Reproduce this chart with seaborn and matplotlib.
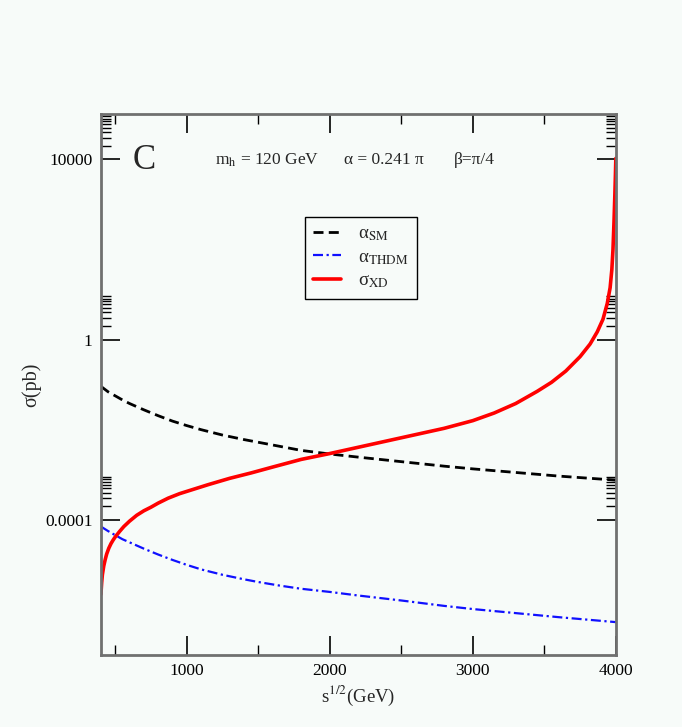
import numpy as np
import pandas as pd
import seaborn as sns
import matplotlib.pyplot as plt
from matplotlib.ticker import FixedLocator, NullFormatter

# sqrt(s) [GeV] and log10(sigma [pb])
s_sm = [400, 450, 500, 550, 600, 700, 800, 900, 1000, 1100, 1250, 1400, 1500, 1650,
        1800, 2000, 2200, 2500, 2800, 3000, 3300, 3600, 4000]
lg_sm = [-1.04, -1.16, -1.25, -1.34, -1.42, -1.56, -1.69, -1.81, -1.91, -2.00, -2.12,
         -2.22, -2.28, -2.37, -2.46, -2.54, -2.61, -2.71, -2.81, -2.87, -2.95, -3.03, -3.12]

s_thdm = [400, 450, 500, 550, 600, 700, 800, 900, 1000, 1100, 1250, 1400, 1500, 1650,
          1800, 2000, 2200, 2500, 2800, 3000, 3300, 3600, 4000]
lg_thdm = [-4.15, -4.25, -4.34, -4.43, -4.50, -4.64, -4.77, -4.89, -5.00, -5.10, -5.22,
           -5.32, -5.38, -5.46, -5.53, -5.60, -5.68, -5.79, -5.91, -5.98, -6.07, -6.16, -6.27]

s_xd = [400, 405, 410, 420, 430, 440, 455, 470, 485, 500, 530, 560, 600, 650, 700, 750,
        800, 870, 950, 1050, 1150, 1300, 1450, 1600, 1800, 2000, 2200, 2400, 2600, 2800,
        3000, 3150, 3300, 3450, 3550, 3650, 3750, 3820, 3870, 3910, 3940, 3960, 3972,
        3980, 3987, 3993, 3997, 4000]
lg_xd = [-5.65, -5.40, -5.22, -5.02, -4.88, -4.76, -4.63, -4.53, -4.45, -4.38, -4.26,
         -4.15, -4.03, -3.90, -3.80, -3.72, -3.63, -3.52, -3.42, -3.32, -3.22, -3.08,
         -2.96, -2.83, -2.66, -2.53, -2.39, -2.25, -2.11, -1.97, -1.80, -1.63, -1.42,
         -1.15, -0.95, -0.70, -0.38, -0.10, 0.17, 0.45, 0.80, 1.15, 1.55, 2.00, 2.60,
         3.20, 3.65, 4.02]

x_ticks = [1000, 2000, 3000, 4000]
x_minor = [500, 1500, 2500, 3500]
y_ticks = [1e-4, 1, 1e4]
y_labels = ["0.0001", "1", "10000"]

sm = pd.DataFrame({"s": s_sm, "sigma": 10.0 ** np.array(lg_sm)})
thdm = pd.DataFrame({"s": s_thdm, "sigma": 10.0 ** np.array(lg_thdm)})
xd = pd.DataFrame({"s": s_xd, "sigma": 10.0 ** np.array(lg_xd)})

sns.set_style("white")
plt.rcParams["font.family"] = ["Liberation Serif", "DejaVu Serif"]
plt.rcParams["mathtext.fontset"] = "stix"

bg = "#f7fbf9"
fig = plt.figure(figsize=(6.82, 7.27), dpi=100, facecolor=bg)
ax = fig.add_axes([0.148, 0.099, 0.755, 0.744], facecolor=bg)

sns.lineplot(data=sm, x="s", y="sigma", ax=ax, color="black", lw=2.0,
             label=r"α$_{\rm SM}$")
ax.lines[-1].set_dashes([3.6, 1.9])
sns.lineplot(data=thdm, x="s", y="sigma", ax=ax, color="#1010ff", lw=1.6,
             label=r"α$_{\rm THDM}$")
ax.lines[-1].set_dashes([4.5, 1.6, 1.0, 1.6])
sns.lineplot(data=xd, x="s", y="sigma", ax=ax, color="#ff0000", lw=2.6,
             label=r"σ$_{\rm XD}$")

ax.set_yscale("log")
ax.set_xlim(400, 4000)
ax.set_ylim(1e-7, 1e5)

ax.xaxis.set_major_locator(FixedLocator(x_ticks))
ax.xaxis.set_minor_locator(FixedLocator(x_minor))
ax.yaxis.set_major_locator(FixedLocator(y_ticks))
ax.set_yticklabels(y_labels)
y_minor = [k * 10.0 ** n for n in (-4, 0, 4) for k in range(2, 10)]
ax.yaxis.set_minor_locator(FixedLocator(y_minor))
ax.yaxis.set_minor_formatter(NullFormatter())

ax.tick_params(which="both", direction="in", top=True, right=True, left=True,
               bottom=True, labelsize=12.5, color="black", labelcolor="black", pad=6)
ax.tick_params(which="major", length=14, width=1.2)
ax.tick_params(which="minor", length=7, width=1.0)

for sp in ax.spines.values():
    sp.set_color("#707070")
    sp.set_linewidth(2)

ax.set_xlabel(r"s$^{1/2}$(GeV)", fontsize=13.5, labelpad=3)
ax.set_ylabel("σ(pb)", fontsize=14.5, labelpad=3)

ax.text(0.062, 0.915, "C", transform=ax.transAxes, fontsize=25, va="center")
ax.text(0.221, 0.915, r"m$_{\rm h}$ = 120 GeV", transform=ax.transAxes,
        fontsize=12.5, va="center")
ax.text(0.472, 0.915, "α = 0.241 π", transform=ax.transAxes, fontsize=12.5, va="center")
ax.text(0.685, 0.915, "β=π/4", transform=ax.transAxes, fontsize=12.5, va="center")

leg = ax.legend(loc="upper left", bbox_to_anchor=(0.396, 0.81), fontsize=13.5,
                frameon=True, fancybox=False, handlelength=1.5, borderpad=0.45,
                labelspacing=0.3, handletextpad=0.9, borderaxespad=0)
leg.get_frame().set_edgecolor("black")
leg.get_frame().set_linewidth(1.0)
leg.get_frame().set_facecolor(bg)
leg.get_frame().set_alpha(1)

fig.savefig("out.png", dpi=100, facecolor=bg)
